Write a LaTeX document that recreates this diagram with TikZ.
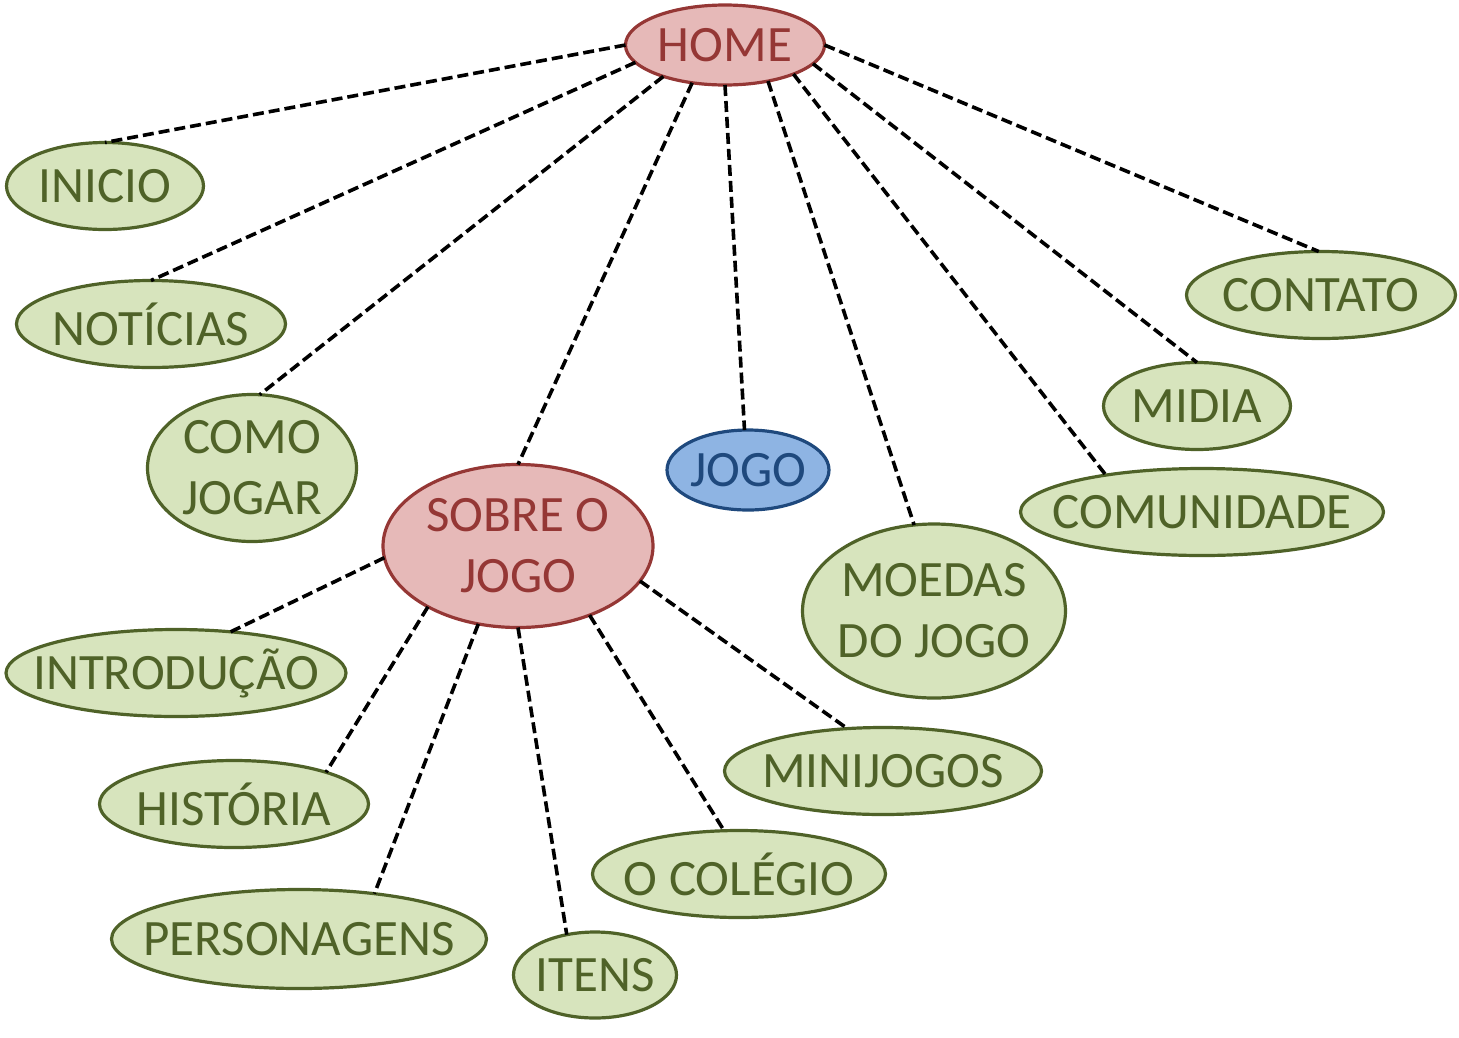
\documentclass[tikz,border=0pt]{standalone}
\usepackage{fontspec}
\setmainfont{Carlito}
\usetikzlibrary{shapes.geometric}
\definecolor{redfill}{HTML}{E6B9B8}
\definecolor{redline}{HTML}{953735}
\definecolor{greenfill}{HTML}{D7E4BD}
\definecolor{greenline}{HTML}{4F6228}
\definecolor{bluefill}{HTML}{8EB4E3}
\definecolor{blueline}{HTML}{1F497D}
\tikzset{
  base/.style={ellipse, line width=3.2pt, inner sep=0pt, outer sep=0pt},
  leaf/.style={base, draw=greenline, fill=greenfill},
  hub/.style={base, draw=redline, fill=redfill},
  cur/.style={base, draw=blueline, fill=bluefill},
  txt/.style={font=\fontsize{51}{61}\selectfont, align=center, inner sep=0pt},
  gtxt/.style={txt, text=greenline},
  rtxt/.style={txt, text=redline},
  btxt/.style={txt, text=blueline},
  link/.style={line width=3.6pt, dash pattern=on 11pt off 5pt, black},
}
\begin{document}
\begin{tikzpicture}[x=1pt,y=-1pt]
\useasboundingbox (0,0) rectangle (1459,1037);

\node[hub, minimum width=199pt, minimum height=80pt, label={[rtxt]center:HOME}] (home) at (725,45) {};

\node[leaf, minimum width=197pt, minimum height=87pt, label={[gtxt]center:INICIO}] (inicio) at (105,186) {};
\node[leaf, minimum width=269pt, minimum height=87pt, label={[gtxt]center:NOTÍCIAS}] (noticias) at (151,324) {};
\node[leaf, minimum width=209pt, minimum height=147pt, label={[gtxt]center:COMO\\JOGAR}] (como) at (252,468) {};
\node[hub, minimum width=270pt, minimum height=163pt, label={[rtxt]center:SOBRE O\\JOGO}] (sobre) at (518,546) {};
\node[cur, minimum width=162pt, minimum height=80pt, label={[btxt]center:JOGO}] (jogo) at (748,470) {};
\node[leaf, minimum width=263pt, minimum height=174pt, label={[gtxt]center:MOEDAS\\DO JOGO}] (moedas) at (934,611) {};
\node[leaf, minimum width=363pt, minimum height=87pt, label={[gtxt]center:COMUNIDADE}] (comunidade) at (1202,512) {};
\node[leaf, minimum width=187pt, minimum height=87pt, label={[gtxt]center:MIDIA}] (midia) at (1197,406) {};
\node[leaf, minimum width=269pt, minimum height=87pt, label={[gtxt]center:CONTATO}] (contato) at (1321,295) {};

\node[leaf, minimum width=340pt, minimum height=87pt, label={[gtxt]center:INTRODUÇÃO}] (intro) at (176,673) {};
\node[leaf, minimum width=269pt, minimum height=87pt, label={[gtxt]center:HISTÓRIA}] (historia) at (234,804) {};
\node[leaf, minimum width=375pt, minimum height=99pt, label={[gtxt]center:PERSONAGENS}] (personagens) at (299,939) {};
\node[leaf, minimum width=163pt, minimum height=86pt, label={[gtxt]center:ITENS}] (itens) at (595,975) {};
\node[leaf, minimum width=293pt, minimum height=87pt, label={[gtxt]center:O COLÉGIO}] (colegio) at (739,874) {};
\node[leaf, minimum width=317pt, minimum height=87pt, label={[gtxt]center:MINIJOGOS}] (minijogos) at (883,771) {};

\draw[link] (home.180) -- (inicio.north);
\draw[link] (home.191) -- (noticias.north);
\draw[link] (home.207) -- (como.84);
\draw[link] (home.229) -- (sobre.north);
\draw[link] (home.270) -- (jogo.95);
\draw[link] (home.320) -- (moedas.103);
\draw[link] (home.337) -- (comunidade.159);
\draw[link] (home.348) -- (midia.north);
\draw[link] (home.0) -- (contato.93);

\draw[link] (sobre.185) -- (intro.37);
\draw[link] (sobre.214) -- (historia.19);
\draw[link] (sobre.243) -- (personagens.31);
\draw[link] (sobre.270) -- (itens.125);
\draw[link] (sobre.316) -- (colegio.109);
\draw[link] (sobre.344) -- (minijogos.130);
\end{tikzpicture}
\end{document}
